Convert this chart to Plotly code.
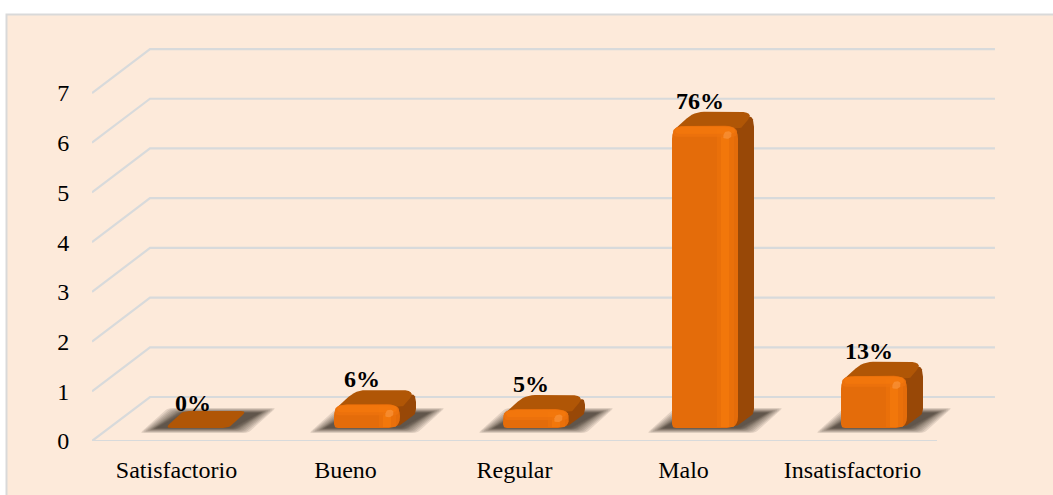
import plotly.graph_objects as go

categories = ["Satisfactorio", "Bueno", "Regular", "Malo", "Insatisfactorio"]
bar_values = [0, 0.48, 0.38, 6.08, 1.05]
bar_labels = ["0%", "6%", "5%", "76%", "13%"]
y_ticks = [0, 1, 2, 3, 4, 5, 6, 7]

PX_PER_CAT = 169.0
PX_PER_UNIT = 49.71
WALL_DX = 58 / PX_PER_CAT
WALL_DY = 44 / PX_PER_UNIT
BAR_SHIFT = -11.5  # px, front left edge of a bar from its category centre
BAR_BASE = 13  # px above the front floor line
BAR_W = 66
DEPTH_X = 16
DEPTH_Y = 14

FONT = "Liberation Serif"


def rounded(corners, radii):
    # corners in px, every corner replaced by a small bezier
    out = []
    n = len(corners)
    for k in range(n):
        px, py = corners[k - 1]
        cx, cy = corners[k]
        nx, ny = corners[(k + 1) % n]
        r = radii[k] if isinstance(radii, list) else radii
        d0 = max(((px - cx) ** 2 + (py - cy) ** 2) ** 0.5, 0.01)
        d1 = max(((nx - cx) ** 2 + (ny - cy) ** 2) ** 0.5, 0.01)
        t0 = min(r / d0, 0.5)
        t1 = min(r / d1, 0.5)
        ax, ay = cx + (px - cx) * t0, cy + (py - cy) * t0
        bx, by = cx + (nx - cx) * t1, cy + (ny - cy) * t1
        for s in range(7):
            t = s / 6
            out.append((
                (1 - t) ** 2 * ax + 2 * t * (1 - t) * cx + t ** 2 * bx,
                (1 - t) ** 2 * ay + 2 * t * (1 - t) * cy + t ** 2 * by,
            ))
    return out


def poly(i, pts, color, opacity=1.0):
    # px offsets from the bar's front left floor corner -> data coordinates
    xs = [i + (BAR_SHIFT + p[0]) / PX_PER_CAT for p in pts]
    ys = [(BAR_BASE + p[1]) / PX_PER_UNIT for p in pts]
    xs.append(xs[0])
    ys.append(ys[0])
    return go.Scatter(
        x=xs, y=ys, mode="lines", fill="toself", fillcolor=color,
        line=dict(width=0), opacity=opacity, hoverinfo="skip", showlegend=False,
    )


fig = go.Figure()

# wall and floor lines
grid_x = []
grid_y = []
for v in y_ticks:
    grid_x += [-0.5, -0.5 + WALL_DX, 4.843, None]
    grid_y += [v, v + WALL_DY, v + WALL_DY, None]
grid_x += [-0.5, 4.5]
grid_y += [0, 0]
fig.add_trace(go.Scatter(
    x=grid_x, y=grid_y, mode="lines", line=dict(color="#D8DADB", width=2.2),
    hoverinfo="skip", showlegend=False,
))

for i, value in enumerate(bar_values):
    h = value * PX_PER_UNIT

    # soft floor shadow, stacked layers
    for grow in [13, 11, 9, 7, 5, 3.5, 2, 1, 0, -1.5, -3]:
        shadow = [
            (-12 - grow, -1 - grow * 0.3),
            (70 + grow, -1 - grow * 0.3),
            (98 + grow, 16 + grow * 0.3),
            (16 - grow, 16 + grow * 0.3),
        ]
        fig.add_trace(poly(i, rounded(shadow, 3), "#2e2824", 0.12))

    if h > 0:
        side = [(BAR_W - 4, 0), (BAR_W + DEPTH_X, DEPTH_Y),
                (BAR_W + DEPTH_X, h + DEPTH_Y), (BAR_W - 4, h)]
        fig.add_trace(poly(i, rounded(side, [6, 5, 15, 1]), "#984807"))
        top = [(0, h - 6), (DEPTH_X + 6, h + DEPTH_Y), (BAR_W + DEPTH_X, h + DEPTH_Y),
               (BAR_W + 4, h - 2)]
        fig.add_trace(poly(i, rounded(top, [4, 10, 15, 2]), "#B05606"))
    else:
        top = [(0, 0), (DEPTH_X + 2, DEPTH_Y + 3), (BAR_W + DEPTH_X, DEPTH_Y + 3), (BAR_W - 2, 0)]
        fig.add_trace(poly(i, rounded(top, 6), "#B05606"))

    if h > 0:
        front = [(0, 0), (BAR_W, 0), (BAR_W, h), (0, h)]
        radii = [4, 11, 13, 13]
        fig.add_trace(poly(i, rounded(front, radii), "#E46C0A"))

        # lighter strip down the right of the front, soft edge
        strip = [(45, 1), (62, 1), (62, h - 3), (45, h - 3)]
        fig.add_trace(poly(i, strip, "#F07409", 0.5))
        strip = [(49, 1), (57, 1), (57, h - 3), (49, h - 3)]
        fig.add_trace(poly(i, strip, "#F77B0C", 0.6))

        # bevel at the top of the front, with a glint on its corner
        bevel = [(1, h - 11), (BAR_W - 1, h - 11), (BAR_W - 1, h - 0.5), (1, h - 0.5)]
        fig.add_trace(poly(i, rounded(bevel, [4, 4, 13, 13]), "#EE730C", 0.8))
        bevel = [(3, h - 8), (BAR_W - 3, h - 8), (BAR_W - 3, h - 1), (3, h - 1)]
        fig.add_trace(poly(i, rounded(bevel, [4, 4, 10, 10]), "#F4780D", 0.8))
        glint = [(50, h - 13), (59, h - 13), (60, h - 6), (53, h - 5)]
        fig.add_trace(poly(i, rounded(glint, 4), "#FA9A45", 0.6))

fig.add_trace(go.Scatter(
    x=[i + (BAR_SHIFT + BAR_W / 2 - 5) / PX_PER_CAT for i in range(len(categories))],
    y=[v + (BAR_BASE + 23) / PX_PER_UNIT for v in bar_values],
    text=bar_labels, mode="text", textposition="middle center",
    textfont=dict(family=FONT, size=24, color="#000000", weight="bold"),
    hoverinfo="skip", showlegend=False,
))

fig.update_layout(
    width=1053, height=495,
    margin=dict(l=92, r=53, t=40, b=54),
    paper_bgcolor="#FFFFFF", plot_bgcolor="rgba(0,0,0,0)",
    showlegend=False,
    font=dict(family=FONT, size=24, color="#000000"),
    xaxis=dict(
        range=[-0.5, (1000 - 176.5) / PX_PER_CAT],
        tickvals=list(range(len(categories))), ticktext=categories,
        showgrid=False, zeroline=False, showline=False, automargin=False,
        ticks="outside", ticklen=7, tickcolor="rgba(0,0,0,0)",
    ),
    yaxis=dict(
        range=[0, 401 / PX_PER_UNIT],
        tickvals=y_ticks,
        showgrid=False, zeroline=False, showline=False, automargin=False,
        ticks="outside", ticklen=17, tickcolor="rgba(0,0,0,0)",
    ),
    shapes=[dict(
        type="rect", xref="paper", yref="paper", layer="below",
        x0=(6.5 - 92) / 908, x1=(1060 - 92) / 908,
        y0=-60 / 401, y1=(441 - 14.5) / 401,
        fillcolor="#FDEADA", line=dict(color="#D9D9D9", width=2),
    )],
)

fig.write_html("out.html", config=dict(displayModeBar=False),
               post_script="document.body.style.margin = '0';")
